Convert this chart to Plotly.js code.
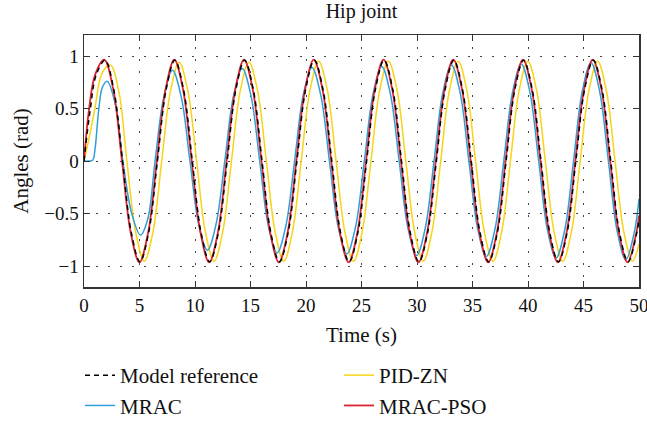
<!DOCTYPE html>
<html>
<head>
<meta charset="utf-8">
<script src="https://cdn.plot.ly/plotly-3.0.1.min.js"></script>
<style>html,body{margin:0;padding:0;background:#fff;}#chart{width:647px;height:421px;}</style>
</head>
<body>
<div id="chart"></div>
<script>
// Series names
const nameRef = 'Model reference';
const nameMrac = 'MRAC';
const namePid = 'PID-ZN';
const namePso = 'MRAC-PSO';

// Axis ticks
const xTicks = [0, 5, 10, 15, 20, 25, 30, 35, 40, 45, 50];
const yTicks = [-1, -0.5, 0, 0.5, 1];

// Model reference (time, angle)
const refT = [0, 0.55, 1.1, 1.9, 2.686, 3.472, 4.257, 5.042, 5.828,
  6.613, 7.399, 8.184, 8.970, 9.755, 10.540, 11.326, 12.111,
  12.896, 13.682, 14.467, 15.253, 16.038, 16.823, 17.609, 18.394,
  19.180, 19.965, 20.750, 21.536, 22.321, 23.106, 23.892, 24.677,
  25.463, 26.248, 27.033, 27.819, 28.604, 29.390, 30.175, 30.960,
  31.746, 32.531, 33.317, 34.102, 34.887, 35.673, 36.458, 37.244,
  38.029, 38.814, 39.600, 40.385, 41.171, 41.956, 42.741, 43.527,
  44.312, 45.098, 45.883, 46.669, 47.454, 48.239, 49.025, 49.810, 50];
const refY = [0, 0.48, 0.82, 0.96, 0.679, 0, -0.679, -0.96, -0.679,
  0, 0.679, 0.96, 0.679, 0, -0.679, -0.96, -0.679,
  0, 0.679, 0.96, 0.679, 0, -0.679, -0.96, -0.679,
  0, 0.679, 0.96, 0.679, 0, -0.679, -0.96, -0.679,
  0, 0.679, 0.96, 0.679, 0, -0.679, -0.96, -0.679,
  0, 0.679, 0.96, 0.679, 0, -0.679, -0.96, -0.679,
  0, 0.679, 0.96, 0.679, 0, -0.679, -0.96, -0.679,
  0, 0.679, 0.96, 0.679, 0, -0.679, -0.96, -0.679, -0.56];

// MRAC-PSO
const psoT = [0, 0.44, 1.0, 1.82, 2.636, 3.422, 4.207, 4.992, 5.778,
  6.563, 7.349, 8.134, 8.920, 9.705, 10.490, 11.276, 12.061,
  12.846, 13.632, 14.417, 15.203, 15.988, 16.773, 17.559, 18.344,
  19.130, 19.915, 20.700, 21.486, 22.271, 23.056, 23.842, 24.627,
  25.413, 26.198, 26.983, 27.769, 28.554, 29.340, 30.125, 30.910,
  31.696, 32.481, 33.267, 34.052, 34.837, 35.623, 36.408, 37.194,
  37.979, 38.764, 39.550, 40.335, 41.121, 41.906, 42.691, 43.477,
  44.262, 45.048, 45.833, 46.619, 47.404, 48.189, 48.975, 49.760, 50];
const psoY = [0, 0.48, 0.82, 0.965, 0.682, 0, -0.682, -0.965, -0.682,
  0, 0.682, 0.965, 0.682, 0, -0.682, -0.965, -0.682,
  0, 0.682, 0.965, 0.682, 0, -0.682, -0.965, -0.682,
  0, 0.682, 0.965, 0.682, 0, -0.682, -0.965, -0.682,
  0, 0.682, 0.965, 0.682, 0, -0.682, -0.965, -0.682,
  0, 0.682, 0.965, 0.682, 0, -0.682, -0.965, -0.682,
  0, 0.682, 0.965, 0.682, 0, -0.682, -0.965, -0.682,
  0, 0.682, 0.965, 0.682, 0, -0.682, -0.965, -0.682, -0.52];

// PID-ZN
const pidT = [0, 0.5, 0.98, 1.64, 2.39, 3.15, 3.862, 4.647, 5.432, 6.218,
  7.003, 7.789, 8.574, 9.360, 10.145, 10.930, 11.716, 12.501,
  13.286, 14.072, 14.857, 15.643, 16.428, 17.213, 17.999, 18.784,
  19.570, 20.355, 21.140, 21.926, 22.711, 23.496, 24.282, 25.067,
  25.853, 26.638, 27.423, 28.209, 28.994, 29.780, 30.565, 31.350,
  32.136, 32.921, 33.707, 34.492, 35.277, 36.063, 36.848, 37.634,
  38.419, 39.204, 39.990, 40.775, 41.561, 42.346, 43.131, 43.917,
  44.702, 45.488, 46.273, 47.059, 47.844, 48.629, 49.415, 50];
const pidY = [0, 0.24, 0.5, 0.84, 0.913, 0.655, 0, -0.672, -0.955, -0.672,
  0, 0.665, 0.94, 0.665, 0, -0.672, -0.955, -0.672,
  0, 0.665, 0.94, 0.665, 0, -0.672, -0.955, -0.672,
  0, 0.672, 0.95, 0.672, 0, -0.672, -0.955, -0.672,
  0, 0.672, 0.95, 0.672, 0, -0.672, -0.955, -0.672,
  0, 0.672, 0.95, 0.672, 0, -0.672, -0.955, -0.672,
  0, 0.672, 0.95, 0.672, 0, -0.672, -0.955, -0.672,
  0, 0.672, 0.95, 0.672, 0, -0.672, -0.955, -0.79];

// MRAC
const mracT = [0, 0.5, 0.8, 1.0, 1.34, 1.65, 2.09, 2.8, 3.5, 4.3, 5.09, 5.75,
  6.403, 7.189, 7.974, 8.760, 9.545, 10.330, 11.116, 11.901,
  12.686, 13.472, 14.257, 15.043, 15.828, 16.613, 17.399, 18.184,
  18.970, 19.755, 20.540, 21.326, 22.111, 22.896, 23.682, 24.467,
  25.253, 26.038, 26.823, 27.609, 28.394, 29.180, 29.965, 30.750,
  31.536, 32.321, 33.107, 33.892, 34.677, 35.463, 36.248, 37.034,
  37.819, 38.604, 39.390, 40.175, 40.961, 41.746, 42.531, 43.317,
  44.102, 44.888, 45.673, 46.459, 47.244, 48.029, 48.815, 49.600, 50];
const mracY = [0, 0, 0.01, 0.12, 0.5, 0.7, 0.76, 0.55, 0, -0.5, -0.705, -0.55,
  0, 0.61, 0.865, 0.61, 0, -0.60, -0.85, -0.60,
  0, 0.622, 0.88, 0.622, 0, -0.619, -0.875, -0.619,
  0, 0.629, 0.89, 0.629, 0, -0.626, -0.885, -0.626,
  0, 0.636, 0.90, 0.636, 0, -0.636, -0.90, -0.636,
  0, 0.647, 0.915, 0.647, 0, -0.643, -0.91, -0.643,
  0, 0.654, 0.925, 0.654, 0, -0.653, -0.923, -0.653,
  0, 0.662, 0.936, 0.662, 0, -0.665, -0.94, -0.665, -0.36];

const W = 647, H = 421;
const ML = 84, MR = 8, MT = 35, MB = 134;
const PW = W - ML - MR, PH = H - MT - MB;
const fontFam = '"Liberation Serif", "Times New Roman", serif';
const textColor = '#111111';

const traces = [
  {x: pidT, y: pidY, name: namePid, type: 'scatter', mode: 'lines',
   line: {color: '#F7D417', width: 1.5, shape: 'spline'},
   legend: 'legend2', legendgroup: 'g3', legendrank: 1},
  {x: mracT, y: mracY, name: nameMrac, type: 'scatter', mode: 'lines',
   line: {color: '#2E9FD9', width: 1.5, shape: 'spline'},
   legend: 'legend', legendgroup: 'g2', legendrank: 2},
  {x: psoT, y: psoY, name: namePso, type: 'scatter', mode: 'lines',
   line: {color: '#DC2330', width: 1.8, shape: 'spline'},
   legend: 'legend2', legendgroup: 'g4', legendrank: 2},
  {x: refT, y: refY, name: nameRef, type: 'scatter', mode: 'lines',
   line: {color: '#000000', width: 1.5, dash: '5px,4px', shape: 'spline'},
   legend: 'legend', legendgroup: 'g1', legendrank: 1}
];

const axisCommon = {
  ticks: 'inside', ticklen: 6, tickwidth: 1, tickcolor: '#333',
  showline: true, linecolor: '#333', linewidth: 1.5, mirror: 'allticks',
  showgrid: true, gridcolor: '#444', gridwidth: 1, griddash: '2px,10px',
  zeroline: false, ticklabeloverflow: 'allow',
  tickfont: {family: fontFam, size: 19, color: textColor}
};

const legendCommon = {
  orientation: 'v', xref: 'paper', yref: 'paper', xanchor: 'left', yanchor: 'top',
  tracegroupgap: 0, traceorder: 'grouped', itemwidth: 30, maxheight: 200,
  bgcolor: 'rgba(0,0,0,0)', borderwidth: 0,
  font: {family: fontFam, size: 21, color: textColor}
};

const layout = {
  width: W, height: H,
  margin: {l: ML, r: MR, t: MT, b: MB, pad: 0, autoexpand: false},
  paper_bgcolor: '#ffffff', plot_bgcolor: '#ffffff',
  font: {family: fontFam, size: 19, color: textColor},
  title: {text: 'Hip joint', x: 0.5, xref: 'paper', xanchor: 'center',
          y: 1 - 11 / H, yref: 'container', yanchor: 'middle',
          font: {family: fontFam, size: 20, color: textColor}},
  xaxis: Object.assign({}, axisCommon, {
    range: [0, 50], tickvals: xTicks, ticktext: xTicks.map(String),
    ticklabelstandoff: 1,
    title: {text: 'Time (s)', standoff: 12, font: {family: fontFam, size: 21, color: textColor}}
  }),
  yaxis: Object.assign({}, axisCommon, {
    range: [-1.2, 1.2], tickvals: yTicks,
    title: {text: 'Angles (rad)', standoff: 10, font: {family: fontFam, size: 21, color: textColor}}
  }),
  showlegend: true,
  legend: Object.assign({}, legendCommon, {
    x: (80 - ML) / PW, y: -(355 - (H - MB)) / PH}),
  legend2: Object.assign({}, legendCommon, {
    x: (339 - ML) / PW, y: -(355 - (H - MB)) / PH})
};

Plotly.newPlot('chart', traces, layout, {staticPlot: true, displayModeBar: false});
</script>
</body>
</html>
